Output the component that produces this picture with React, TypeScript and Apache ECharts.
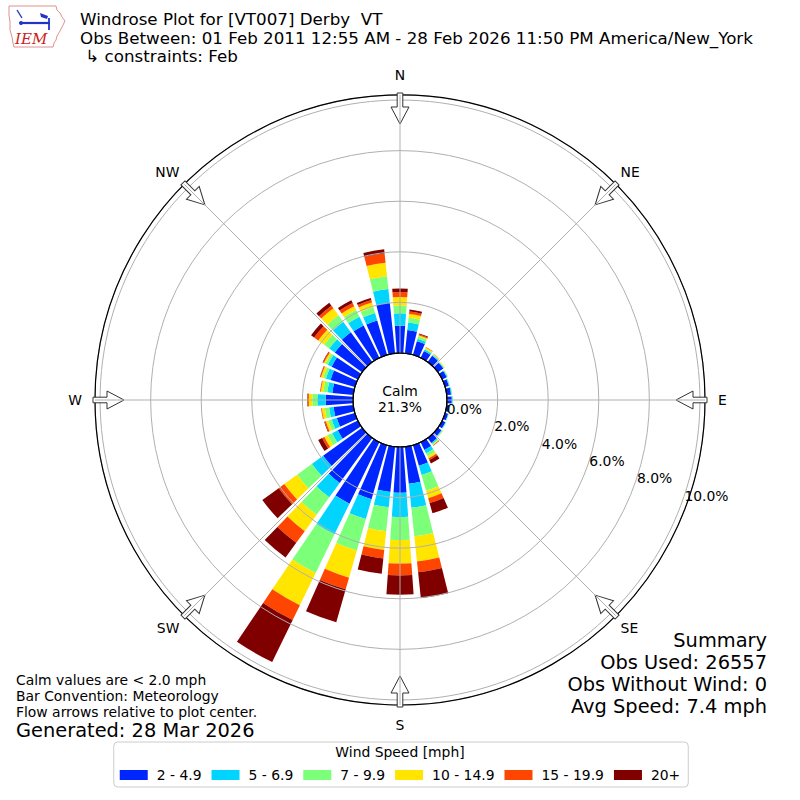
import React, { useEffect, useRef } from "react";
import * as echarts from "echarts";

// ---- data ----
const directions = [
  "0", "10", "20", "30", "40", "50", "60", "70", "80", "90", "100", "110",
  "120", "130", "140", "150", "160", "170", "180", "190", "200", "210", "220", "230",
  "240", "250", "260", "270", "280", "290", "300", "310", "320", "330", "340", "350",
];
const speedBins = ["2 - 4.9", "5 - 6.9", "7 - 9.9", "10 - 14.9", "15 - 19.9", "20+"];
const binColors = ["#0026ff", "#00d4ff", "#7cff79", "#ffe500", "#ff4600", "#800000"];

// percent of observations per direction bin
const bin2to5 = [
  1.08, 0.92, 0.56, 0.30, 0.30, 0.26, 0.20, 0.15, 0.17, 0.19, 0.12, 0.12,
  0.14, 0.17, 0.24, 0.34, 0.85, 1.47, 1.81, 1.80, 2.22, 2.70, 2.20, 1.90,
  0.88, 0.74, 0.78, 1.08, 0.83, 1.00, 1.15, 1.33, 1.45, 1.42, 1.41, 2.01,
];
const bin5to7 = [
  0.49, 0.30, 0.10, 0.06, 0.04, 0.03, 0.03, 0.03, 0.03, 0.03, 0.02, 0.02,
  0.02, 0.03, 0.05, 0.15, 0.38, 0.96, 0.96, 0.61, 0.82, 1.35, 0.70, 0.55,
  0.25, 0.21, 0.18, 0.33, 0.20, 0.19, 0.17, 0.27, 0.51, 0.38, 0.31, 0.54,
];
const bin7to10 = [
  0.31, 0.19, 0.09, 0.05, 0.03, 0.02, 0.02, 0.02, 0.02, 0.02, 0.01, 0.01,
  0.02, 0.03, 0.04, 0.13, 0.64, 1.13, 0.91, 0.95, 1.29, 1.70, 0.85, 0.72,
  0.20, 0.14, 0.17, 0.20, 0.16, 0.11, 0.10, 0.25, 0.32, 0.30, 0.24, 0.51,
];
const bin10to15 = [
  0.33, 0.15, 0.05, 0.04, 0.02, 0.02, 0.01, 0.00, 0.00, 0.00, 0.00, 0.00,
  0.00, 0.01, 0.03, 0.09, 0.31, 1.00, 0.93, 0.74, 1.12, 1.42, 0.80, 0.63,
  0.14, 0.10, 0.12, 0.14, 0.10, 0.09, 0.07, 0.29, 0.34, 0.17, 0.19, 0.54,
];
const bin15to20 = [
  0.20, 0.10, 0.05, 0.02, 0.01, 0.00, 0.00, 0.00, 0.00, 0.00, 0.00, 0.00,
  0.00, 0.00, 0.01, 0.07, 0.20, 0.43, 0.47, 0.34, 0.48, 0.65, 0.57, 0.27,
  0.10, 0.05, 0.03, 0.04, 0.03, 0.04, 0.04, 0.20, 0.13, 0.14, 0.10, 0.37,
];
const bin20plus = [
  0.14, 0.08, 0.03, 0.00, 0.00, 0.00, 0.00, 0.00, 0.00, 0.00, 0.00, 0.00,
  0.00, 0.00, 0.01, 0.15, 0.42, 1.03, 0.76, 0.61, 1.35, 1.85, 0.72, 0.80,
  0.17, 0.02, 0.00, 0.02, 0.00, 0.01, 0.02, 0.15, 0.15, 0.12, 0.09, 0.16,
];
const binData = [bin2to5, bin5to7, bin7to10, bin10to15, bin15to20, bin20plus];

const radialTicks = [0, 2, 4, 6, 8, 10];
const compassLabels = ["N", "NE", "E", "SE", "S", "SW", "W", "NW"];
const titleLines = [
  "Windrose Plot for [VT007] Derby  VT",
  "Obs Between: 01 Feb 2011 12:55 AM - 28 Feb 2026 11:50 PM America/New_York",
  " \u21b3 constraints: Feb",
];
const noteLines = [
  "Calm values are < 2.0 mph",
  "Bar Convention: Meteorology",
  "Flow arrows relative to plot center.",
];
const generatedText = "Generated: 28 Mar 2026";
const summaryLines = ["Summary", "Obs Used: 26557", "Obs Without Wind: 0", "Avg Speed: 7.4 mph"];
const calmLines = ["Calm", "21.3%"];
const legendTitle = "Wind Speed [mph]";

const FONT = "DejaVu Sans";
const CX = 400;
const CY = 400;
const R0 = 47;
const R1 = 305;
const RMAX = 10.2;
const SMALL = 13.9;

function txt(text: string, x: number, y: number, size: number, align = "left", extra: any = {}) {
  return {
    type: "text",
    z: 20,
    style: {
      text,
      x,
      y,
      fill: "#000",
      fontSize: size,
      fontFamily: FONT,
      textAlign: align,
      align,
      textVerticalAlign: "middle",
      verticalAlign: "middle",
      ...extra,
    },
  };
}

export default function App() {
  const ref = useRef<HTMLDivElement>(null);
  useEffect(() => {
    if (!ref.current) return;
    const chart = echarts.init(ref.current, null, { renderer: "svg" });

    const arrowPts = [
      [-2.8, -307], [2.8, -307], [2.8, -293], [9, -293], [0, -276], [-9, -293], [-2.8, -293],
    ];
    const arrows = compassLabels.map((_, i) => ({
      type: "polygon",
      x: CX,
      y: CY,
      rotation: (-i * 45 * Math.PI) / 180,
      z: 5,
      shape: { points: arrowPts },
      style: { fill: "#ffffff", stroke: "#333333", lineWidth: 1 },
    }));

    const logo = [
      {
        type: "polygon",
        z: 20,
        shape: {
          points: [
            [9, 6], [56, 6], [57, 10], [60, 13], [62, 17], [65, 21], [62, 27], [60, 31],
            [57, 36], [56, 40], [54, 43], [53, 47], [14, 47], [13, 43], [12, 37], [10, 30],
            [10, 22], [9, 15],
          ],
        },
        style: { fill: "none", stroke: "#e09090", lineWidth: 1 },
      },
      { type: "line", z: 20, shape: { x1: 21, y1: 23, x2: 50, y2: 23 }, style: { stroke: "#2233cc", lineWidth: 2.2 } },
      { type: "line", z: 20, shape: { x1: 17, y1: 10, x2: 22, y2: 18 }, style: { stroke: "#2233cc", lineWidth: 1.4 } },
      { type: "line", z: 20, shape: { x1: 49, y1: 18, x2: 49, y2: 30 }, style: { stroke: "#2233cc", lineWidth: 1.8 } },
      { type: "polygon", z: 20, shape: { points: [[40, 13], [48, 16], [47, 19], [41, 17]] }, style: { fill: "#2233cc" } },
      { type: "circle", z: 20, shape: { cx: 21, cy: 23, r: 2 }, style: { fill: "#2233cc" } },
      txt("IEM", 15, 39, 15, "left", { fill: "#cc2222", fontFamily: "DejaVu Serif", fontStyle: "italic" }),
    ];

    const texts = [
      ...titleLines.map((t, i) => txt(t, 80, 19 + i * 18.5, 16.7)),
      ...noteLines.map((t, i) => txt(t, 16, 680 + i * 16, SMALL)),
      txt(generatedText, 16, 730, 19.4),
      ...summaryLines.map((t, i) => txt(t, 767, 640 + i * 22, 19.4, "right")),
      ...calmLines.map((t, i) => txt(t, CX, 391 + i * 16, SMALL, "center")),
      txt(legendTitle, 400, 752, SMALL, "center"),
    ];

    const compassFormatter = (v: number) => {
      const i = Math.round(v / 45);
      if (i >= compassLabels.length) return "";
      const lab = compassLabels[i];
      if (i % 2 === 1) return `{d|${lab}}`;
      return i % 4 === 0 ? `{v|${lab}}` : `{h|${lab}}`;
    };

    const hiddenAxis = {
      axisLine: { show: false },
      axisTick: { show: false },
      axisLabel: { show: false },
      splitLine: { show: false },
      splitArea: { show: false },
    };

    const option: any = {
      animation: false,
      backgroundColor: "#ffffff",
      textStyle: { fontFamily: FONT },
      polar: [
        { center: [CX, CY], radius: [R0, R1] },
        { center: [CX, CY], radius: [R0, R1] },
        { center: [CX, CY], radius: [R0, R1] },
      ],
      angleAxis: [
        {
          polarIndex: 0,
          type: "category",
          data: directions,
          startAngle: 95,
          clockwise: true,
          boundaryGap: true,
          z: 4,
          ...hiddenAxis,
          axisLine: { show: true, lineStyle: { color: "#000000", width: 1.2 } },
        },
        {
          polarIndex: 1,
          type: "value",
          min: 0,
          max: 360,
          startAngle: 340,
          clockwise: true,
          ...hiddenAxis,
        },
        {
          polarIndex: 2,
          type: "value",
          min: 0,
          max: 360,
          interval: 45,
          startAngle: 90,
          clockwise: true,
          z: 6,
          axisLine: { show: false },
          axisTick: { show: false },
          splitArea: { show: false },
          splitLine: { show: true, lineStyle: { color: "#b0b0b0", width: 1 } },
          axisLabel: {
            show: true,
            margin: 7,
            color: "#000",
            fontSize: SMALL,
            fontFamily: FONT,
            formatter: compassFormatter,
            rich: {
              v: { fontSize: SMALL, fontFamily: FONT, color: "#000", padding: [6, 0, 6, 0] },
              h: { fontSize: SMALL, fontFamily: FONT, color: "#000", padding: [0, 6, 0, 6] },
              d: { fontSize: SMALL, fontFamily: FONT, color: "#000" },
            },
          },
        },
      ],
      radiusAxis: [
        { polarIndex: 0, type: "value", min: 0, max: RMAX, ...hiddenAxis },
        {
          polarIndex: 1,
          type: "value",
          min: 0,
          max: RMAX,
          interval: 2,
          z: 3,
          axisLine: { show: false },
          axisTick: { show: false },
          splitArea: { show: false },
          splitLine: { show: true, lineStyle: { color: "#b0b0b0", width: 1 } },
          axisLabel: {
            show: true,
            margin: 7.5,
            align: "left",
            verticalAlign: "middle",
            color: "#000",
            fontSize: SMALL,
            fontFamily: FONT,
            formatter: (v: number) => (radialTicks.indexOf(v) >= 0 ? v.toFixed(1) + "%" : ""),
          },
        },
        { polarIndex: 2, type: "value", min: 0, max: RMAX, ...hiddenAxis },
      ],
      legend: {
        data: speedBins,
        left: "center",
        top: 742,
        orient: "horizontal",
        icon: "rect",
        itemWidth: 28,
        itemHeight: 10,
        itemGap: 10,
        selectedMode: false,
        padding: [26, 8, 5, 6],
        borderColor: "#cccccc",
        borderWidth: 1,
        borderRadius: 4,
        backgroundColor: "#ffffff",
        textStyle: { fontSize: SMALL, color: "#000", fontFamily: FONT, padding: [0, 0, 0, 4] },
      },
      graphic: [
        ...arrows,
        {
          type: "circle",
          z: 7,
          shape: { cx: CX, cy: CY, r: R0 },
          style: { fill: "none", stroke: "#000000", lineWidth: 1.2 },
        },
        ...logo,
        ...texts,
      ],
      series: speedBins.map((name, i) => ({
        type: "bar",
        name,
        coordinateSystem: "polar",
        polarIndex: 0,
        stack: "wind",
        data: binData[i],
        barCategoryGap: "20%",
        z: 2,
        itemStyle: { color: binColors[i] },
        emphasis: { disabled: true },
      })),
    };

    chart.setOption(option);
    return () => chart.dispose();
  }, []);

  return (
    <div
      ref={ref}
      style={{ position: "absolute", left: 0, top: 0, width: 800, height: 800, background: "#fff" }}
    />
  );
}
